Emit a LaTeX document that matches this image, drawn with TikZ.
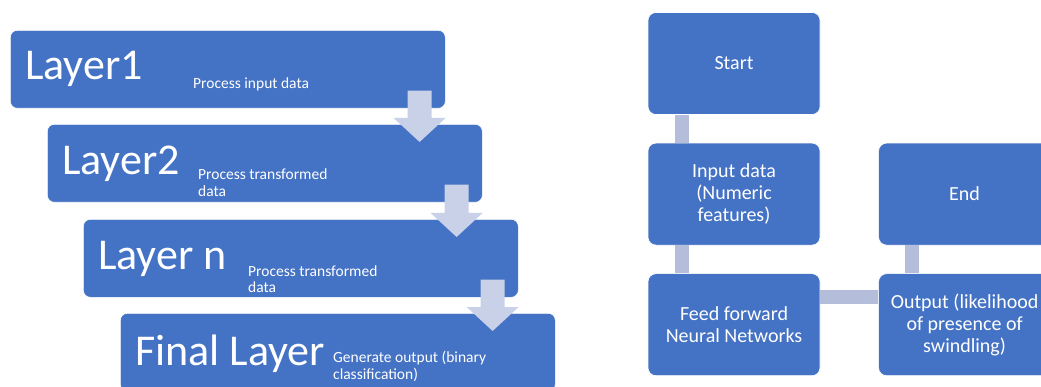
\documentclass[tikz,border=0pt]{standalone}
\usepackage{fontspec}
\setmainfont{Carlito}
\usetikzlibrary{calc,positioning}
\definecolor{boxblue}{HTML}{4472C4}
\definecolor{arrowgrey}{HTML}{C9D1E8}
\definecolor{bargrey}{HTML}{B4BEDB}
% down arrow between two layer boxes: [fill options] (from box) (to box)
\def\stepdown[#1](#2)(#3){%
  \fill[#1] let \p1=($(#2.south east)+(-26,-18)$), \p2=($(#3.north east)+(0,18)$) in
    (\x1-12pt,\y1) -- (\x1+12pt,\y1) -- (\x1+12pt,\y2+24pt) -- (\x1+26pt,\y2+24pt)
    -- (\x1,\y2) -- (\x1-26pt,\y2+24pt) -- (\x1-12pt,\y2+24pt) -- cycle;}

\begin{document}
\begin{tikzpicture}[x=1pt,y=-1pt,
  layerbox/.style={draw=white,line width=0.6pt,fill=boxblue,rounded corners=7pt,
    minimum width=435pt,minimum height=78pt,anchor=north west,inner sep=0pt},
  flowbox/.style={draw=white,line width=0.6pt,fill=boxblue,rounded corners=8pt,
    minimum width=172pt,minimum height=102pt,inner sep=0pt,text=white,align=center,
    font={\fontsize{20}{22}\selectfont}},
  layername/.style={anchor=base west,inner sep=0pt,text=white,font={\fontsize{44}{46}\selectfont}},
  layernote/.style={anchor=base west,inner sep=0pt,text=white,align=left,
    font={\fontsize{15.5}{17}\selectfont}},
  bar/.style={draw=bargrey,line width=14pt},
  node distance=28pt]
\fill[white] (0,0) rectangle (1041,387);
\useasboundingbox (0,0) rectangle (1041,387);
\clip (0,0) rectangle (1041,387);

% layers, step down process
\node[layerbox] (l1) at (10,30) {};
\node[layerbox] (l2) at (47,124) {};
\node[layerbox] (l3) at (83,219) {};
\node[layerbox] (l4) at (120,313) {};

% (notes are placed by the baseline of their last line)
\node[layername] (l1name) at ($(l1.north west)+(15,50)$) {Layer1};
\node[layernote] (l1note) at ($(l1.north west)+(183,59)$) {Process input data};
\node[layername] (l2name) at ($(l2.north west)+(15,51)$) {Layer2};
\node[layernote] (l2note) at ($(l2.north west)+(151,73)$) {Process transformed\\data};
\node[layername] (l3name) at ($(l3.north west)+(15,51)$) {Layer n};
\node[layernote] (l3note) at ($(l3.north west)+(165,74)$) {Process transformed\\data};
\node[layername] (l4name) at ($(l4.north west)+(15,52)$) {Final Layer};
\node[layernote] (l4note) at ($(l4.north west)+(213,66)$) {Generate output (binary\\classification)};

\stepdown[arrowgrey](l1)(l2)
\stepdown[arrowgrey](l2)(l3)
\stepdown[arrowgrey](l3)(l4)

% flow chart
\node[flowbox] (start) at (734,63.5) {Start};
\node[flowbox,below=of start] (input) {Input data\\(Numeric\\features)};
\node[flowbox,below=of input] (ffnn) {Feed forward\\Neural Networks};
\node[flowbox,right=58pt of ffnn] (output) {Output (likelihood\\of presence of\\swindling)};
\node[flowbox,above=of output] (end) {End};

\draw[bar] ($(start.south west)+(34,0)$) -- ($(input.north west)+(34,0)$);
\draw[bar] ($(input.south west)+(34,0)$) -- ($(ffnn.north west)+(34,0)$);
\draw[bar] ($(ffnn.north east)+(0,24)$) -- ($(output.north west)+(0,24)$);
\draw[bar] ($(output.north west)+(34,0)$) -- ($(end.south west)+(34,0)$);
\end{tikzpicture}
\end{document}
